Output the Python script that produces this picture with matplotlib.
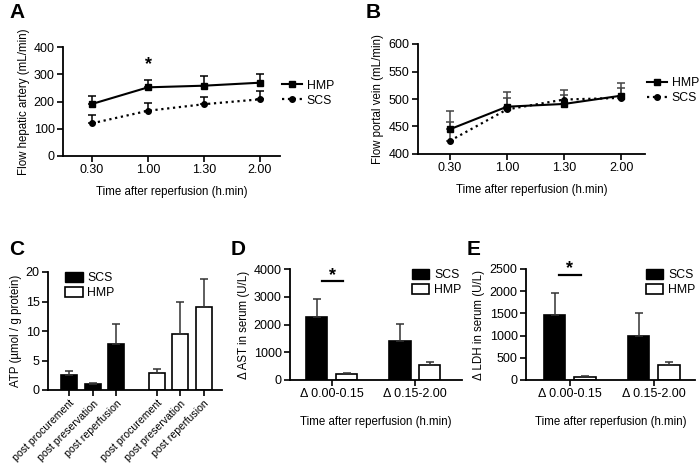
import matplotlib
matplotlib.use("Agg")
import matplotlib.pyplot as plt
import numpy as np
from matplotlib.lines import Line2D
from matplotlib.patches import Patch

plt.rcParams['font.family'] = ['Liberation Sans', 'DejaVu Sans']
plt.rcParams['font.size'] = 8

# ---- data ----
time_labels = ["0.30", "1.00", "1.30", "2.00"]
a_hmp = [191, 252, 258, 269]
a_hmp_err = [30, 27, 34, 33]
a_scs = [120, 166, 190, 208]
a_scs_err = [29, 27, 28, 32]

b_hmp = [445, 486, 491, 506]
b_hmp_err = [33, 27, 17, 24]
b_scs = [424, 481, 499, 502]
b_scs_err = [34, 21, 18, 18]

c_labels = ["post procurement", "post preservation", "post reperfusion",
            "post procurement", "post preservation", "post reperfusion"]
c_scs = [2.55, 1.0, 7.8]
c_scs_err = [0.7, 0.25, 3.4]
c_hmp = [2.85, 9.5, 14.0]
c_hmp_err = [0.75, 5.4, 4.8]

interval_labels = ["Δ 0.00-0.15", "Δ 0.15-2.00"]
d_scs = [2255, 1404]
d_scs_err = [680, 630]
d_hmp = [200, 550]
d_hmp_err = [55, 95]

e_scs = [1468, 994]
e_scs_err = [490, 525]
e_hmp = [65, 331]
e_hmp_err = [32, 75]

W, H = 699, 472
fig = plt.figure(figsize=(W / 100, H / 100), dpi=100)

TICK_FS = 9
LABEL_FS = 8.3
LEG_FS = 8.8


def box(l, r, t, b):
    return [l / W, 1 - b / H, (r - l) / W, (b - t) / H]


def style(ax):
    for s in ['top', 'right']:
        ax.spines[s].set_visible(False)
    for s in ['left', 'bottom']:
        ax.spines[s].set_linewidth(1.3)
    ax.tick_params(direction='out', length=4, width=1.2, labelsize=TICK_FS, pad=2)


def line_panel(ax, hmp, hmp_err, scs, scs_err, ylim, yticks, ylabel, ecolor):
    x = np.arange(len(time_labels))
    ax.errorbar(x, hmp, yerr=[np.zeros(len(hmp)), hmp_err], fmt='-s', color='black',
                ms=4, lw=1.5, ecolor=ecolor, elinewidth=1.1, capsize=3, capthick=1.1)
    ax.errorbar(x, scs, yerr=[np.zeros(len(scs)), scs_err], fmt=':o', color='black',
                ms=4, lw=1.6, ecolor=ecolor, elinewidth=1.1, capsize=3, capthick=1.1)
    ax.set_xticks(x)
    ax.set_xticklabels(time_labels)
    ax.set_ylim(*ylim)
    ax.set_yticks(yticks)
    ax.set_ylabel(ylabel, fontsize=LABEL_FS, labelpad=3)
    ax.set_xlabel("Time after reperfusion (h.min)", fontsize=LABEL_FS, labelpad=7)
    style(ax)
    handles = [Line2D([], [], color='black', ls='-', marker='s', ms=4, lw=1.5),
               Line2D([], [], color='black', ls=':', marker='o', ms=4, lw=1.6)]
    ax.legend(handles, ["HMP", "SCS"], loc='upper left', bbox_to_anchor=(1.01, 0.70),
              frameon=False, fontsize=LEG_FS, handlelength=1.6, handletextpad=0.4,
              labelspacing=0.25, borderaxespad=0, borderpad=0)


# ---- Panel A ----
axA = fig.add_axes(box(63, 280, 47, 156))
line_panel(axA, a_hmp, a_hmp_err, a_scs, a_scs_err, (0, 400), [0, 100, 200, 300, 400],
           "Flow hepatic artery (mL/min)", 'black')
axA.set_xlim(-0.52, 3.36)
axA.text(1, 335, "*", ha='center', va='center', fontsize=13, fontweight='bold')

# ---- Panel B ----
axB = fig.add_axes(box(418, 645, 44, 154))
line_panel(axB, b_hmp, b_hmp_err, b_scs, b_scs_err, (400, 600), [400, 450, 500, 550, 600],
           "Flow portal vein (mL/min)", '#444444')
axB.set_xlim(-0.56, 3.42)

# ---- Panel C ----
axC = fig.add_axes(box(48, 222, 272, 390))
xc_scs = np.array([0, 1, 2]) * 1.0
xc_hmp = np.array([3.7, 4.7, 5.7])
bw = 0.68
ekw = dict(ecolor='#333333', elinewidth=1.1, capsize=3, capthick=1.1)
axC.bar(xc_scs, c_scs, bw, color='black', edgecolor='black', lw=1.2,
        yerr=[np.zeros(3), c_scs_err], error_kw=ekw)
axC.bar(xc_hmp, c_hmp, bw, color='white', edgecolor='black', lw=1.2,
        yerr=[np.zeros(3), c_hmp_err], error_kw=ekw)
axC.set_xlim(-0.9, 6.47)
axC.set_ylim(0, 20)
axC.set_yticks([0, 5, 10, 15, 20])
axC.set_xticks(np.concatenate([xc_scs, xc_hmp]))
axC.set_ylabel("ATP (µmol / g protein)", fontsize=LABEL_FS, labelpad=3)
style(axC)
axC.set_xticklabels(c_labels, rotation=45, ha='right', rotation_mode='anchor', fontsize=7.6)
axC.legend([Patch(facecolor='black', edgecolor='black'), Patch(facecolor='white', edgecolor='black', lw=1.2)],
           ["SCS", "HMP"], loc='upper left', bbox_to_anchor=(0.10, 1.0), frameon=False, fontsize=LEG_FS,
           handlelength=1.4, handleheight=0.9, handletextpad=0.4, labelspacing=0.2, borderaxespad=0, borderpad=0)


def bar_panel(ax, scs, scs_err, hmp, hmp_err, ylim, yticks, ylabel, xlim):
    x = np.arange(len(interval_labels))
    off = 0.18
    w = 0.255
    ax.bar(x - off, scs, w, color='black', edgecolor='black', lw=1.2,
           yerr=[np.zeros(len(scs)), scs_err], error_kw=ekw)
    ax.bar(x + off, hmp, w, color='white', edgecolor='black', lw=1.2,
           yerr=[np.zeros(len(hmp)), hmp_err], error_kw=ekw)
    ax.set_xticks(x)
    ax.set_xticklabels(interval_labels)
    ax.set_xlim(*xlim)
    ax.set_ylim(*ylim)
    ax.set_yticks(yticks)
    ax.set_ylabel(ylabel, fontsize=LABEL_FS, labelpad=3)
    ax.set_xlabel("Time after reperfusion (h.min)", fontsize=LABEL_FS, labelpad=11)
    style(ax)
    ax.legend([Patch(facecolor='black', edgecolor='black'), Patch(facecolor='white', edgecolor='black', lw=1.2)],
              ["SCS", "HMP"], loc='upper left', bbox_to_anchor=(0.71, 1.0), frameon=False, fontsize=LEG_FS,
              handlelength=1.4, handleheight=0.9, handletextpad=0.4, labelspacing=0.2, borderaxespad=0,
              borderpad=0)


# ---- Panel D ----
axD = fig.add_axes(box(290, 462, 269, 380))
bar_panel(axD, d_scs, d_scs_err, d_hmp, d_hmp_err, (0, 4000), [0, 1000, 2000, 3000, 4000],
          "Δ AST in serum (U/L)", (-0.5, 1.566))
axD.plot([-0.12, 0.14], [3575, 3575], color='black', lw=1.6, clip_on=False)
axD.text(0.01, 3780, "*", ha='center', va='center', fontsize=13, fontweight='bold', clip_on=False)

# ---- Panel E ----
axE = fig.add_axes(box(526, 695, 269, 380))
bar_panel(axE, e_scs, e_scs_err, e_hmp, e_hmp_err, (0, 2500), [0, 500, 1000, 1500, 2000, 2500],
          "Δ LDH in serum (U/L)", (-0.52, 1.49))
axE.plot([-0.13, 0.14], [2371, 2371], color='black', lw=1.6, clip_on=False)
axE.text(0.0, 2510, "*", ha='center', va='center', fontsize=13, fontweight='bold', clip_on=False)

# ---- panel letters ----
for lab, x, y in [("A", 9, 13), ("B", 366, 13), ("C", 9, 249), ("D", 231, 249), ("E", 467, 249)]:
    fig.text(x / W, 1 - y / H, lab, fontsize=15, fontweight='bold', ha='left', va='center')

fig.savefig("out.png", dpi=100)
